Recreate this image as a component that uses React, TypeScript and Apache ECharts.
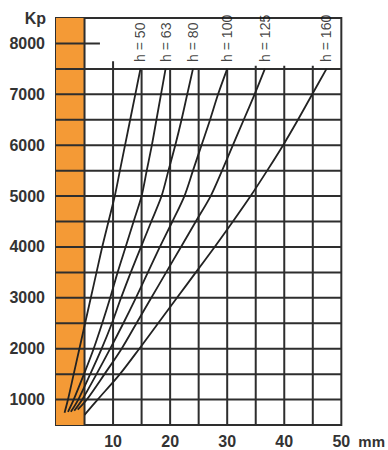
import React, { useEffect, useRef } from 'react';
import * as echarts from 'echarts';

// Load levels (Kp) at which deflections were read, after each curve's start point
const loadLevels = [1000, 1500, 2000, 2500, 3000, 3500, 4000, 4500, 5000, 5500, 6000, 6500, 7000, 7500];
const curveLabels = ['h = 50', 'h = 63', 'h = 80', 'h = 100', 'h = 125', 'h = 160'];
const startLoads = [740, 760, 760, 780, 800, 700];
const startDefl = [1.5, 2.1, 2.6, 3.2, 3.8, 5.0];
// deflection (mm) at each load level
const deflH50 = [2.1, 3.1, 4.1, 5.1, 6.1, 7.1, 8.1, 9.2, 10.3, 11.2, 12.1, 13.0, 13.9, 14.8];
const deflH63 = [3.1, 4.9, 6.6, 8.1, 9.5, 10.8, 12.2, 13.6, 15.0, 15.9, 16.8, 17.6, 18.4, 19.2];
const deflH80 = [3.9, 6.0, 8.0, 9.8, 11.4, 13.1, 14.9, 16.7, 18.5, 19.7, 20.9, 22.0, 23.0, 24.0];
const deflH100 = [4.6, 7.1, 9.5, 11.8, 14.0, 16.1, 18.2, 20.4, 22.5, 24.0, 25.5, 27.0, 28.4, 30.0];
const deflH125 = [5.4, 8.5, 11.5, 14.1, 16.7, 19.3, 21.9, 24.5, 27.1, 29.1, 31.0, 32.9, 34.8, 36.6];
const deflH160 = [7.3, 11.2, 14.6, 17.9, 21.2, 24.5, 27.8, 31.0, 34.1, 37.0, 39.8, 42.4, 44.9, 47.4];
const allDefl = [deflH50, deflH63, deflH80, deflH100, deflH125, deflH160];

// Grid layout values (axis units)
const xTickLabels = [10, 20, 30, 40, 50];
const yTickLabels = [1000, 2000, 3000, 4000, 5000, 6000, 7000, 8000];
const vGridX = [5, 10, 15, 20, 25, 30, 35, 40, 45];
const vGridTop = [8500, 7650, 7500, 7500, 7500, 7500, 7560, 7560, 7560];
const hGridY = [1000, 1500, 2000, 2500, 3000, 3500, 4000, 4500, 5000, 5500, 6000, 6500, 7000, 7500];
const shortLine = { y: 8000, xEnd: 7.7 };
const band = { x0: 0, x1: 5, y0: 500, y1: 8500 };

const FONT = "'Liberation Sans', Arial, Helvetica, sans-serif";
const DARK = '#2e2e2e';

export default function App() {
  const ref = useRef<HTMLDivElement>(null);
  useEffect(() => {
    if (!ref.current) return;
    const chart = echarts.init(ref.current, null, { renderer: 'svg' });

    const gridSegs: number[][] = [];
    vGridX.forEach((x, i) => gridSegs.push([x, 500, x, vGridTop[i]]));
    hGridY.forEach((y) => gridSegs.push([0, y, 50, y]));
    gridSegs.push([0, shortLine.y, shortLine.xEnd, shortLine.y]);

    const curves = allDefl.map((d, i) => {
      const pts = [[startDefl[i], startLoads[i]]];
      d.forEach((v, k) => pts.push([v, loadLevels[k]]));
      return pts;
    });

    const option: any = {
      animation: false,
      grid: {
        left: 56, right: 46, top: 18, bottom: 25,
        show: true, borderColor: DARK, borderWidth: 2, backgroundColor: 'transparent',
      },
      xAxis: {
        type: 'value', min: 0, max: 50, interval: 10,
        axisLine: { show: false }, axisTick: { show: false }, splitLine: { show: false },
        axisLabel: {
          margin: 8, fontSize: 16, fontWeight: 'bold', color: '#333', fontFamily: FONT,
          formatter: (v: number) => (xTickLabels.includes(v) ? String(v) : ''),
        },
        name: 'mm', nameLocation: 'end', nameGap: 17,
        nameTextStyle: {
          fontSize: 15, fontWeight: 'bold', color: '#333', fontFamily: FONT,
          align: 'left', verticalAlign: 'top', padding: [9, 0, 0, 0],
        },
      },
      yAxis: {
        type: 'value', min: 500, max: 8500, interval: 500,
        axisLine: { show: false }, axisTick: { show: false }, splitLine: { show: false },
        axisLabel: {
          margin: 11, fontSize: 16, fontWeight: 'bold', color: '#333', fontFamily: FONT,
          formatter: (v: number) => (yTickLabels.includes(v) ? String(v) : ''),
        },
        name: 'Kp', nameLocation: 'end', nameGap: 0,
        nameTextStyle: {
          fontSize: 16, fontWeight: 'bold', color: '#333', fontFamily: FONT,
          align: 'right', verticalAlign: 'middle', padding: [0, 10, 0, 0],
        },
      },
      series: [
        {
          type: 'custom', z: 1, silent: true,
          data: [[band.x0, band.y0, band.x1, band.y1]],
          encode: { x: [0, 2], y: [1, 3] },
          renderItem: (_p: any, api: any) => {
            const a = api.coord([api.value(0), api.value(3)]);
            const b = api.coord([api.value(2), api.value(1)]);
            return {
              type: 'rect',
              shape: { x: a[0], y: a[1], width: b[0] - a[0], height: b[1] - a[1] },
              style: { fill: '#F49A36' },
            };
          },
        },
        {
          type: 'custom', z: 2, silent: true,
          data: gridSegs,
          encode: { x: [0, 2], y: [1, 3] },
          renderItem: (_p: any, api: any) => {
            const a = api.coord([api.value(0), api.value(1)]);
            const b = api.coord([api.value(2), api.value(3)]);
            return {
              type: 'line',
              shape: { x1: a[0], y1: a[1], x2: b[0], y2: b[1] },
              style: { stroke: DARK, lineWidth: 2 },
            };
          },
        },
        ...curves.map((pts) => ({
          type: 'line', z: 3, silent: true,
          data: pts, showSymbol: false, symbol: 'none', smooth: 0.3,
          lineStyle: { color: '#222', width: 1.8 },
        })),
        {
          type: 'scatter', z: 4, silent: true,
          symbolSize: 0,
          data: curves.map((pts, i) => ({
            value: pts[pts.length - 1],
            label: {
              show: true, formatter: curveLabels[i], position: 'top', distance: 7,
              rotate: 90, align: 'left', verticalAlign: 'middle',
              fontSize: 14, color: '#111', fontFamily: FONT,
            },
          })),
        },
      ],
    };
    chart.setOption(option);
    return () => chart.dispose();
  }, []);
  return <div ref={ref} style={{ position: 'absolute', left: 0, top: 0, width: 388, height: 450 }} />;
}
